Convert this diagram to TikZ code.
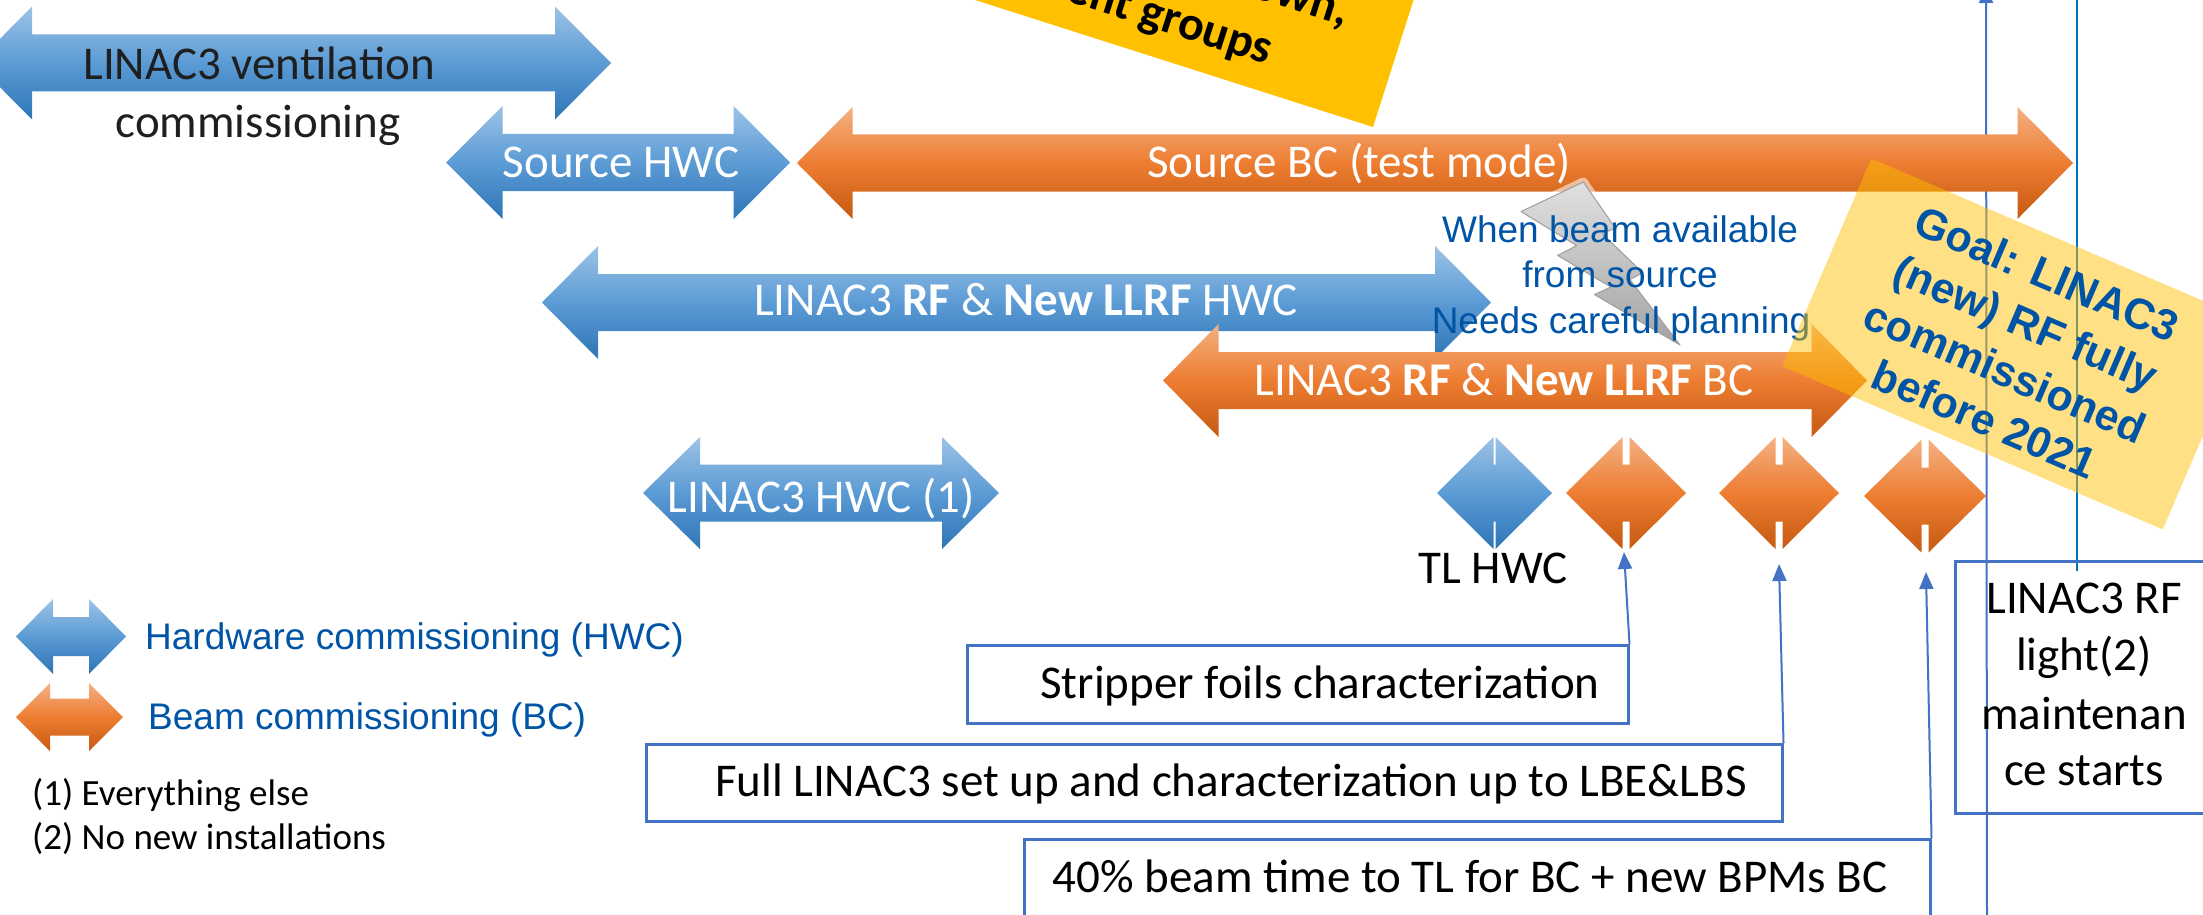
\documentclass[tikz,border=0pt]{standalone}
\usepackage{fontspec}
\setmainfont{Carlito}
\newfontfamily\arialf{Liberation Sans}
\usetikzlibrary{arrows.meta}

\definecolor{blueTop}{RGB}{157,195,230}
\definecolor{blueMid}{RGB}{91,155,213}
\definecolor{blueBot}{RGB}{46,117,182}
\definecolor{orTop}{RGB}{244,177,131}
\definecolor{orMid}{RGB}{237,125,49}
\definecolor{orBot}{RGB}{197,90,17}
\definecolor{linkblue}{RGB}{68,114,196}
\definecolor{lineblue}{RGB}{0,112,192}
\definecolor{noteblue}{RGB}{0,84,166}
\definecolor{amber}{RGB}{255,192,0}

\newcommand{\bigfont}{\fontsize{47}{57}\selectfont}
\newcommand{\notefont}{\arialf\fontsize{37}{45}\selectfont}

% left-right block arrow: name, left tip x, right tip x, centre y,
% half shaft height, half head height, head length, fill style
\newcommand{\dblarr}[8]{%
  \path[#8] (#2,#4) -- ({#2+#7},{#4-#6}) -- ({#2+#7},{#4-#5})
    -- ({#3-#7},{#4-#5}) -- ({#3-#7},{#4-#6}) -- (#3,#4)
    -- ({#3-#7},{#4+#6}) -- ({#3-#7},{#4+#5}) -- ({#2+#7},{#4+#5})
    -- ({#2+#7},{#4+#6}) -- cycle;
  \coordinate (#1) at ({(#2+#3)/2},#4);}

\begin{document}
\begin{tikzpicture}[x=1pt,y=-1pt,
  hwc/.style={top color=blueTop, bottom color=blueBot, middle color=blueMid},
  bc/.style={top color=orTop, bottom color=orBot, middle color=orMid},
  lbl/.style={text=white, font=\bigfont, inner sep=0pt, anchor=base},
  dark/.style={lbl, text=black!88},
  note/.style={text=noteblue, font=\notefont, inner sep=0pt, anchor=base},
  foot/.style={text=black, font=\fontsize{37}{44}\selectfont, inner sep=0pt, anchor=base west},
  goal/.style={text=noteblue, font=\arialf\bfseries\fontsize{43}{52}\selectfont, inner sep=0pt, anchor=base},
  warn/.style={text=black, font=\bfseries\fontsize{48}{58}\selectfont, inner sep=0pt},
  taskbox/.style={draw=linkblue, line width=2.5pt, inner sep=0pt, anchor=north west},
  conn/.style={draw=linkblue, line width=2pt, -{Triangle[length=17pt,width=14pt]}}]

\useasboundingbox (0,0) rectangle (2203,915);
\fill[white] (0,0) rectangle (2203,915);

% long vertical links on the right
\coordinate (v1b) at (1987,930);
\coordinate (v1t) at (1986,-14);
\draw[conn] (v1b) -- (v1t);
\coordinate (v2b) at (2077,571);
\coordinate (v2t) at (2077,-10);
\draw[lineblue, line width=2pt] (v2b) -- (v2t);

% phase arrows
\dblarr{vent}{-24}{611}{63}{28.5}{56.5}{56}{hwc}
\dblarr{srchwc}{446}{790}{162.5}{28.5}{56.5}{56.5}{hwc}
\dblarr{srcbc}{797}{2073}{163}{28.5}{56}{55.5}{bc}
\dblarr{rfhwc}{542}{1491}{302.5}{28.5}{56.5}{56}{hwc}
\dblarr{rfbc}{1163}{1867}{380.5}{28.5}{56.5}{55.5}{bc}
\dblarr{linhwc}{643}{999}{493}{28.5}{56}{57}{hwc}

% milestones
\dblarr{msTL}{1437}{1552}{493}{28.5}{56}{56.5}{hwc}
\dblarr{msA}{1566}{1686}{493}{28.5}{56}{56.5}{bc}
\dblarr{msB}{1719}{1839}{493}{28.5}{56}{56.5}{bc}
\dblarr{msC}{1864}{1986}{496}{28.5}{56.5}{57.5}{bc}

% labels on the arrows
\node[dark] (ventA) at (259,80) {LINAC3 ventilation};
\node[dark] (ventB) at (258,138) {commissioning};
\node[lbl] (srchwcT) at (621,177) {Source HWC};
\node[lbl] (srcbcT) at (1359,177) {Source BC (test mode)};
\node[lbl] (rfhwcT) at (1026,315) {LINAC3 \textbf{RF} \& \textbf{New LLRF} HWC};
\node[lbl] (rfbcT) at (1504,395) {LINAC3 \textbf{RF} \& \textbf{New LLRF} BC};
\node[lbl] (linhwcT) at (821,512) {LINAC3 HWC (1)};
\node[lbl, text=black] (tlT) at (1493,583) {TL HWC};

% legend
\dblarr{legH}{16}{126}{636.5}{19.5}{37.5}{37}{hwc}
\dblarr{legB}{16}{123}{717}{18.5}{34}{34}{bc}
\node[note, anchor=base west] (legHT) at (145,649) {Hardware commissioning (HWC)};
\node[note, anchor=base west] (legBT) at (148,729) {Beam commissioning (BC)};
\node[foot] (f1) at (32,805) {(1) Everything else};
\node[foot] (f2) at (32,849) {(2) No new installations};

% lightning bolt
\draw[white, line width=9pt, opacity=0.55, line join=round]
  (1583.3,182) -- (1521,211.6) -- (1576.7,245.6) -- (1557.7,255.4)
  -- (1610.8,287) -- (1594.5,294.6) -- (1680,345) -- (1629.8,279.5)
  -- (1642.8,272.8) -- (1602.2,233.7) -- (1615.4,228.1) -- cycle;
\path[top color=black!12, bottom color=black!36, draw=black!38, line width=1pt, line join=round]
  (1583.3,182) -- (1521,211.6) -- (1576.7,245.6) -- (1557.7,255.4)
  -- (1610.8,287) -- (1594.5,294.6) -- (1680,345) -- (1629.8,279.5)
  -- (1642.8,272.8) -- (1602.2,233.7) -- (1615.4,228.1) -- cycle;
\node[note] (wb1) at (1620,242) {When beam available};
\node[note] (wb2) at (1620,287) {from source};
\node[note] (wb3) at (1621,333) {Needs careful planning};

% task boxes with links to the milestones
\coordinate (tipA) at (1624,552);
\coordinate (tipB) at (1779,564);
\coordinate (tipC) at (1926,572);

\node[taskbox, minimum width=661pt, minimum height=78pt] (sfbox) at (966,644) {};
\node[dark, text=black] (sfT) at (1320,698) {Stripper foils characterization};
\draw[conn] (sfbox.north east) -- (tipA);

\node[taskbox, minimum width=1136pt, minimum height=77pt] (flbox) at (645,743) {};
\node[dark, text=black] (flT) at (1231,796) {Full LINAC3 set up and characterization up to LBE\&LBS};
\draw[conn] (flbox.north east) -- (tipB);

\node[taskbox, minimum width=906pt, minimum height=110pt] (btbox) at (1023,838) {};
\node[dark, text=black] (btT) at (1470,892) {40\% beam time to TL for BC + new BPMs BC};
\draw[conn] (btbox.north east) -- (tipC);

\node[taskbox, minimum width=270pt, minimum height=252pt] (rfbox) at (1954,560) {};
\node[dark, text=black] (rf1) at (2084,613) {LINAC3 RF};
\node[dark, text=black] (rf2) at (2084,670) {light(2)};
\node[dark, text=black] (rf3) at (2084,729) {maintenan};
\node[dark, text=black] (rf4) at (2084,785) {ce starts};

% goal sticker
\begin{scope}[shift={(2017,344)}, rotate=-23.2, transform shape]
  \fill[amber, opacity=0.48] (-207,-113) rectangle (207,113);
  \node[goal] (g1) at (0,-61) {Goal: LINAC3};
  \node[goal] (g2) at (0,-8) {(new) RF fully};
  \node[goal] (g3) at (0,45) {commissioned};
  \node[goal] (g4) at (0,97) {before 2021};
\end{scope}

% warning sticker at the top
\begin{scope}[shift={(1373,127)}, rotate=-17.7, transform shape]
  \fill[amber] (-900,-400) rectangle (0,0);
  \node[warn, anchor=base east] (w1) at (-58,-87) {own,};
  \node[warn, anchor=base east] (w2) at (-120,-27) {ent groups};
\end{scope}

\end{tikzpicture}
\end{document}
